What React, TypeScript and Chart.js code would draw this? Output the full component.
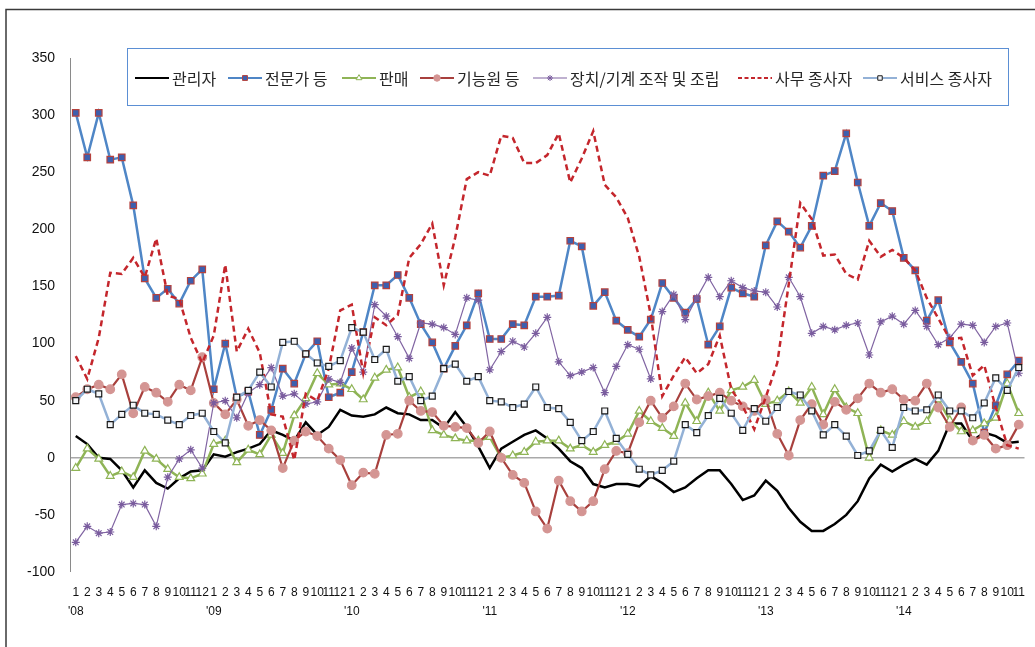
import React, { useEffect, useRef } from 'react';
import { Chart, registerables } from 'chart.js';

Chart.register(...registerables);

const monthNames = ['1', '2', '3', '4', '5', '6', '7', '8', '9', '10', '11', '12'];
const yearLabels = ["'08", "'09", "'10", "'11", "'12", "'13", "'14"];
const monthCount = 83;

const seriesNames = ['관리자', '전문가 등', '판매', '기능원 등', '장치/기계 조작 및 조립', '사무 종사자', '서비스 종사자'];

const managers = [
  19, 12, 0, -1, -11, -26, -11, -22, -27, -18, -12, -11, 3, 1, 5,
  8, 12, 24, 20, 15, 31, 20, 27, 42, 37, 36, 38, 44, 39, 38,
  33, 33, 26, 40, 27, 10, -9, 8, 14, 20, 24, 17, 8, -3, -9,
  -23, -26, -23, -23, -25, -16, -22, -30, -26, -18, -11, -11, -23, -37, -33,
  -20, -29, -44, -56, -64, -64, -58, -50, -38, -18, -6, -12, -6, -1,
  -6, 6, 30, 30, 15, 22, 19, 13, 14,
];

const professionals = [
  302, 263, 302, 261, 263, 221, 157, 140, 148, 135, 155, 165, 60, 100, 53,
  58, 20, 42, 78, 65, 91, 102, 53, 57, 75, 110, 151, 151, 160, 140,
  117, 101, 78, 98, 116, 144, 104, 104, 117, 116, 141, 141, 142, 190, 185,
  133, 145, 120, 112, 106, 121, 153, 140, 127, 139, 99, 115, 149, 144, 141,
  186, 207, 198, 184, 203, 247, 251, 284, 241, 203, 223, 216, 175, 164,
  120, 138, 101, 84, 65, 22, 46, 73, 85,
];

const sales = [
  -9, 8, -1, -16, -12, -17, 6, -1, -10, -17, -18, -14, 12, 15, -4,
  7, 3, 20, 4, 37, 52, 74, 64, 65, 60, 51, 70, 77, 79, 53,
  58, 24, 20, 17, 15, 15, 18, 0, 2, 5, 14, 15, 15, 8, 11,
  5, 11, 14, 21, 41, 32, 26, 19, 48, 32, 57, 41, 59, 62, 68,
  47, 50, 58, 48, 62, 38, 60, 44, 39, 0, 24, 20, 32, 27,
  32, 51, 33, 23, 24, 30, 35, 65, 39,
];

const craft = [
  53, 60, 64, 60, 73, 39, 62, 57, 49, 64, 59, 88, 48, 38, 51,
  28, 33, 24, -9, 15, 23, 19, 8, -2, -24, -13, -14, 20, 21, 50,
  41, 40, 28, 27, 26, 13, 23, 0, -15, -22, -47, -62, -20, -38, -47,
  -38, -10, 6, 4, 31, 50, 35, 45, 65, 51, 54, 57, 50, 45, 41,
  51, 21, 2, 33, 47, 29, 49, 42, 52, 65, 57, 60, 51, 50,
  65, 44, 27, 44, 15, 20, 8, 11, 29,
];

const machine = [
  -74, -60, -66, -65, -41, -40, -41, -60, -17, -1, 7, -9, 48, 50, 35,
  57, 64, 79, 54, 56, 47, 49, 69, 66, 96, 75, 134, 124, 106, 87,
  118, 117, 114, 108, 140, 138, 77, 93, 102, 97, 109, 123, 84, 72, 75,
  79, 57, 80, 99, 95, 69, 128, 143, 121, 140, 158, 141, 155, 149, 146,
  145, 132, 158, 141, 109, 115, 112, 116, 118, 90, 119, 124, 117, 129,
  115, 99, 105, 117, 116, 101, 115, 118, 74,
];

const clerks = [
  89, 69, 105, 162, 161, 175, 158, 192, 142, 139, 105, 83, 107, 169, 93,
  113, 92, 38, 36, -2, 56, 50, 78, 129, 134, 74, 123, 116, 125, 175,
  187, 205, 151, 193, 244, 250, 247, 282, 280, 258, 258, 265, 284, 241, 262,
  286, 239, 228, 210, 176, 125, 54, 72, 88, 74, 82, 107, 60, 45, 25,
  53, 83, 152, 223, 209, 177, 178, 161, 156, 190, 176, 182, 175, 164,
  140, 122, 104, 105, 72, 81, 44, 11, 8,
];

const service = [
  50, 60, 56, 29, 38, 46, 39, 38, 33, 29, 37, 39, 23, 13, 53,
  59, 75, 62, 101, 102, 91, 83, 80, 85, 114, 110, 86, 95, 67, 71,
  50, 54, 78, 82, 67, 71, 50, 49, 44, 47, 62, 44, 43, 31, 15,
  23, 41, 17, 3, -10, -15, -11, -3, 29, 22, 37, 52, 39, 24, 43,
  32, 44, 58, 55, 41, 20, 29, 19, 2, 6, 24, 9, 44, 41,
  42, 55, 41, 41, 35, 48, 70, 59, 79,
];

const yTickMin = -100;
const yTickMax = 350;
const yTickStep = 50;

function buildCategories(): (string | string[])[] {
  const out: (string | string[])[] = [];
  yearLabels.forEach((yr) => {
    monthNames.forEach((m, mi) => {
      out.push(mi === 0 ? [m, yr] : m);
    });
  });
  return out.slice(0, monthCount);
}

const legendX = [135, 228, 342, 420, 533, 738, 863];

function drawMarker(ctx: CanvasRenderingContext2D, style: string, x: number, y: number, r: number, fill: string, stroke: string, bw: number) {
  ctx.save();
  ctx.fillStyle = fill;
  ctx.strokeStyle = stroke;
  ctx.lineWidth = bw;
  ctx.setLineDash([]);
  ctx.beginPath();
  if (style === 'rect') {
    const s = r * Math.SQRT1_2;
    ctx.rect(x - s, y - s, 2 * s, 2 * s);
    ctx.fill();
    ctx.stroke();
  } else if (style === 'circle') {
    ctx.arc(x, y, r, 0, Math.PI * 2);
    ctx.fill();
    ctx.stroke();
  } else if (style === 'triangle') {
    for (let k = 0; k < 3; k++) {
      const a = (k * 2 * Math.PI) / 3;
      const px = x + Math.sin(a) * r;
      const py = y - Math.cos(a) * r;
      if (k === 0) ctx.moveTo(px, py);
      else ctx.lineTo(px, py);
    }
    ctx.closePath();
    ctx.fill();
    ctx.stroke();
  } else if (style === 'star') {
    ctx.moveTo(x - r, y);
    ctx.lineTo(x + r, y);
    ctx.moveTo(x, y - r);
    ctx.lineTo(x, y + r);
    const d = r * Math.SQRT1_2;
    ctx.moveTo(x - d, y - d);
    ctx.lineTo(x + d, y + d);
    ctx.moveTo(x - d, y + d);
    ctx.lineTo(x + d, y - d);
    ctx.stroke();
  }
  ctx.restore();
}

const framePlugin = {
  id: 'frameAndLegend',
  beforeDraw(chart: any) {
    const ctx = chart.ctx;
    ctx.save();
    ctx.fillStyle = '#ffffff';
    ctx.fillRect(0, 0, chart.width, chart.height);
    ctx.restore();
  },
  afterDraw(chart: any) {
    const ctx: CanvasRenderingContext2D = chart.ctx;
    ctx.save();
    // outer frame
    ctx.strokeStyle = '#3a3a3a';
    ctx.lineWidth = 1.5;
    ctx.beginPath();
    ctx.moveTo(6, chart.height + 2);
    ctx.lineTo(6, 9.5);
    ctx.lineTo(chart.width + 2, 9.5);
    ctx.stroke();

    // legend box
    ctx.fillStyle = '#ffffff';
    ctx.fillRect(127, 48, 881, 57);
    ctx.strokeStyle = '#5b8fd4';
    ctx.lineWidth = 1;
    ctx.strokeRect(127.5, 48.5, 881, 57);

    ctx.font = '16px "Noto Sans CJK KR"';
    ctx.textBaseline = 'middle';
    ctx.textAlign = 'left';
    const y = 78;
    chart.data.datasets.forEach((ds: any, i: number) => {
      const x = legendX[i];
      ctx.strokeStyle = ds.borderColor;
      ctx.lineWidth = Math.min(ds.borderWidth, 2);
      ctx.setLineDash(ds.borderDash ? [4, 2.5] : []);
      ctx.beginPath();
      ctx.moveTo(x, y);
      ctx.lineTo(x + 34, y);
      ctx.stroke();
      ctx.setLineDash([]);
      if (ds.pointRadius > 0) {
        drawMarker(ctx, ds.pointStyle, x + 17, y, ds.pointRadius * 0.75, ds.pointBackgroundColor, ds.pointBorderColor, 1);
      }
      ctx.fillStyle = '#262626';
      ctx.fillText(ds.label, x + 37, y + 1);
    });
    ctx.restore();
  },
};

export default function App() {
  const canvasRef = useRef<HTMLCanvasElement | null>(null);

  useEffect(() => {
    const canvas = canvasRef.current;
    if (!canvas) return;
    const values = [managers, professionals, sales, craft, machine, clerks, service];
    const styles = [
      { color: '#000000', width: 2.5, point: 'circle', r: 0, bg: '#000', bc: '#000' },
      { color: '#4f86c6', width: 2.5, point: 'rect', r: 4.6, bg: '#3d5fae', bc: '#b5423e' },
      { color: '#8fb456', width: 2.5, point: 'triangle', r: 4.5, bg: '#ffffff', bc: '#8fb456' },
      { color: '#a8403d', width: 2.2, point: 'circle', r: 4.3, bg: '#d49593', bc: '#d49593' },
      { color: '#8064a2', width: 1.2, point: 'star', r: 4, bg: '#8064a2', bc: '#7a5c9e' },
      { color: '#c4262c', width: 2.5, point: 'circle', r: 0, bg: '#c4262c', bc: '#c4262c', dash: [6, 4] },
      { color: '#93b1d6', width: 2.5, point: 'rect', r: 4.2, bg: '#f4f6f9', bc: '#1a1a1a' },
    ];
    const datasets = values.map((v, i) => {
      const s: any = styles[i];
      return {
        label: seriesNames[i],
        data: v,
        borderColor: s.color,
        backgroundColor: s.color,
        borderWidth: s.width,
        borderDash: s.dash,
        pointStyle: s.point,
        pointRadius: s.r,
        pointBackgroundColor: s.bg,
        pointBorderColor: s.bc,
        pointBorderWidth: 1.2,
        tension: 0,
        fill: false,
        order: values.length - 1 - i,
      };
    });

    const chart = new Chart(canvas, {
      type: 'line',
      data: { labels: buildCategories(), datasets },
      options: {
        animation: false,
        responsive: false,
        devicePixelRatio: 1,
        events: [],
        layout: { padding: { left: 0, top: 58, right: 10.5, bottom: 0 } },
        plugins: {
          legend: { display: false },
          tooltip: { enabled: false },
        },
        scales: {
          x: {
            type: 'category',
            offset: true,
            grid: { display: false, drawTicks: false },
            border: { display: false },
            ticks: {
              autoSkip: false,
              maxRotation: 0,
              minRotation: 0,
              padding: 11,
              color: '#111111',
              font: { family: '"Liberation Sans", Arial, sans-serif', size: 12, lineHeight: 1.58 },
            },
            afterFit: (s: any) => {
              s.height = 75;
              s.paddingLeft = 0;
              s.paddingRight = 0;
            },
          },
          y: {
            min: yTickMin,
            max: yTickMax,
            grid: {
              drawTicks: false,
              color: (ctx: any) => (ctx.tick && ctx.tick.value === 0 ? '#a9a9a9' : 'rgba(0,0,0,0)'),
              lineWidth: (ctx: any) => (ctx.tick && ctx.tick.value === 0 ? 1.5 : 0),
            },
            border: { display: true, color: '#8a8a8a', width: 1 },
            ticks: {
              stepSize: yTickStep,
              padding: 15,
              color: '#111111',
              font: { family: '"Liberation Sans", Arial, sans-serif', size: 14 },
            },
            afterFit: (s: any) => {
              s.width = 70;
              s.paddingTop = 0;
              s.paddingBottom = 0;
            },
          },
        },
      },
      plugins: [framePlugin],
    });

    return () => chart.destroy();
  }, []);

  return (
    <div style={{ position: 'fixed', left: 0, top: 0, width: 1035, height: 647, background: '#fff' }}>
      <canvas ref={canvasRef} width={1035} height={647} style={{ display: 'block', width: 1035, height: 647 }} />
    </div>
  );
}
